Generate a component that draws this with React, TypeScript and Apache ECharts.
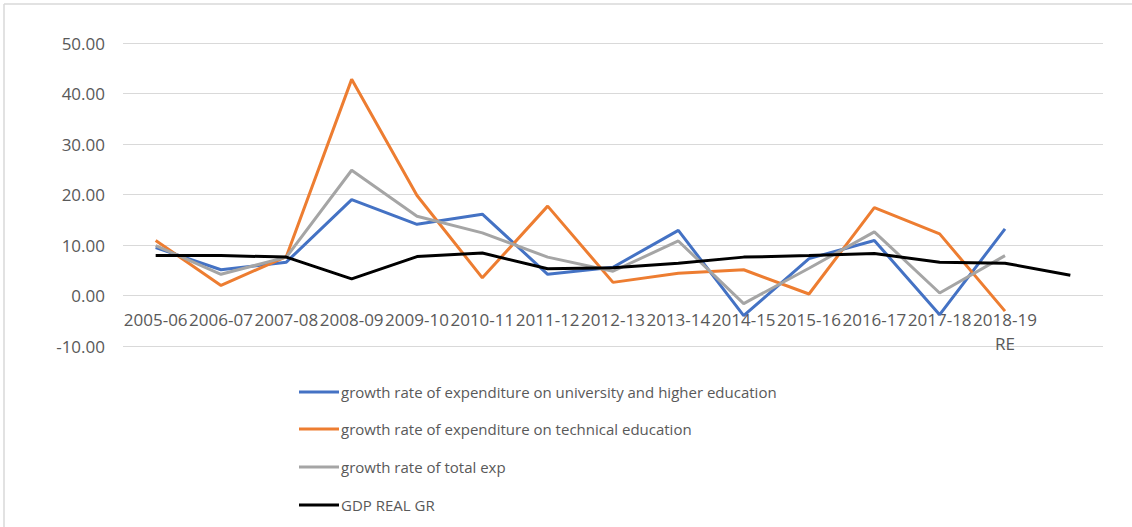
import React, { useEffect, useRef } from "react";
import * as echarts from "echarts";

const categories = [
  "2005-06", "2006-07", "2007-08", "2008-09", "2009-10", "2010-11", "2011-12",
  "2012-13", "2013-14", "2014-15", "2015-16", "2016-17", "2017-18", "2018-19 RE", "",
];
const universityGrowth = [9.5, 5.1, 6.6, 19.0, 14.1, 16.1, 4.2, 5.6, 12.9, -4.0, 7.3, 10.9, -3.8, 13.2];
const technicalGrowth = [10.9, 2.0, 7.7, 42.8, 19.8, 3.5, 17.7, 2.6, 4.4, 5.1, 0.3, 17.4, 12.2, -3.1];
const totalExpGrowth = [9.9, 4.2, 7.6, 24.8, 15.7, 12.4, 7.6, 4.8, 10.8, -1.6, 5.4, 12.6, 0.5, 7.9];
const gdpRealGrowth = [7.9, 7.9, 7.6, 3.3, 7.7, 8.4, 5.3, 5.5, 6.4, 7.6, 7.9, 8.3, 6.6, 6.4, 4.0];

const seriesNames = [
  "growth rate of expenditure on university and higher education",
  "growth rate of expenditure on technical education",
  "growth rate of total exp",
  "GDP REAL GR",
];
const seriesData = [universityGrowth, technicalGrowth, totalExpGrowth, gdpRealGrowth];
const colors = ["#4472C4", "#ED7D31", "#A5A5A5", "#000000"];
const legendCenters = [392, 429, 467, 505];

const FONT = "'Open Sans', sans-serif";

export default function App() {
  const ref = useRef<HTMLDivElement>(null);
  useEffect(() => {
    const chart = echarts.init(ref.current!, null, { renderer: "svg" });
    chart.setOption({
      animation: false,
      backgroundColor: "#ffffff",
      color: colors,
      grid: { left: 123, right: 29, top: 43, bottom: 181, containLabel: false },
      xAxis: {
        type: "category",
        data: categories,
        boundaryGap: true,
        offset: -50.4,
        axisLine: { show: false, onZero: false },
        axisTick: { show: false },
        axisLabel: {
          interval: 0,
          color: "#595959",
          fontFamily: FONT,
          fontSize: 17,
          margin: 12,
          lineHeight: 24,
          formatter: (v: string) => v.replace(" ", "\n"),
        },
        splitLine: { show: false },
      },
      yAxis: {
        type: "value",
        min: -10,
        max: 50,
        interval: 10,
        axisLine: { show: false },
        axisTick: { show: false },
        axisLabel: {
          color: "#595959",
          fontFamily: FONT,
          fontSize: 17,
          margin: 18,
          formatter: (v: number) => v.toFixed(2),
        },
        splitLine: { lineStyle: { color: "#d9d9d9", width: 1 } },
      },
      legend: seriesNames.map((n, i) => ({
        data: [n],
        orient: "vertical",
        left: 299,
        top: legendCenters[i] - 10,
        padding: 0,
        icon: "rect",
        itemWidth: 40,
        itemHeight: 3,
        itemGap: 0,
        textStyle: { color: "#595959", fontFamily: FONT, fontSize: 15, lineHeight: 20, padding: [0, 0, 0, -3] },
      })),
      graphic: [
        { type: "line", shape: { x1: 4, y1: 4, x2: 1132, y2: 4 }, style: { stroke: "#d9d9d9", lineWidth: 1.5 } },
        { type: "line", shape: { x1: 4, y1: 4, x2: 4, y2: 527 }, style: { stroke: "#d9d9d9", lineWidth: 1.5 } },
      ],
      series: seriesNames.map((n, i) => ({
        name: n,
        type: "line",
        data: seriesData[i],
        symbol: "none",
        lineStyle: { width: 3, color: colors[i] },
        itemStyle: { color: colors[i] },
        z: i === 3 ? 3 : 2,
      })),
    });
    return () => chart.dispose();
  }, []);
  return (
    <div
      ref={ref}
      style={{ position: "fixed", left: 0, top: 0, width: 1132, height: 527 }}
    />
  );
}
